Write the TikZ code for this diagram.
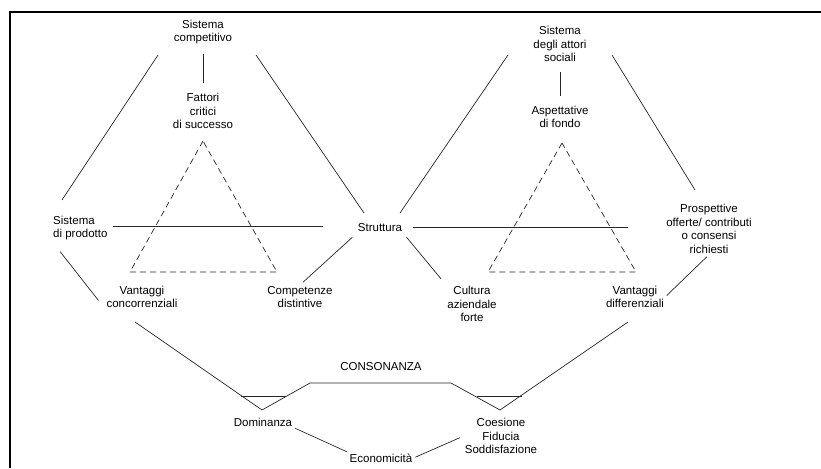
\documentclass[tikz,border=0pt]{standalone}
\usepackage{fontspec}
\setmainfont{Liberation Sans}
\begin{document}
\begin{tikzpicture}[x=1pt,y=-1pt,
  label node/.style={align=center, inner sep=1pt, font=\fontsize{11.5}{13.5}\selectfont},
  link/.style={draw=black!85, line width=0.7pt},
  hidden link/.style={link, dash pattern=on 6pt off 4pt}]
  \useasboundingbox (0,0) rectangle (821,468);
  % Frame
  \draw[line width=1.8pt] (10,468) -- (10,12) -- (821,12);

  % Nodes, left side
  \node[label node] (sc) at (203,32) {Sistema\\competitivo};
  \node[label node] (fcs) at (203,111) {Fattori\\critici\\di successo};
  \node[label node, align=left, anchor=west] (sp) at (52,228) {Sistema\\di prodotto};
  \node[label node] (str) at (380,228) {Struttura};
  \node[label node] (vc) at (142,297) {Vantaggi\\concorrenziali};
  \node[label node] (cd) at (300,297) {Competenze\\distintive};
  % Nodes, right side
  \node[label node] (ssa) at (560,44) {Sistema\\degli attori\\sociali};
  \node[label node] (adf) at (560,117) {Aspettative\\di fondo};
  \node[label node] (poc) at (709,229) {Prospettive\\offerte/ contributi\\o consensi\\richiesti};
  \node[label node] (caf) at (472,304) {Cultura\\aziendale\\forte};
  \node[label node] (vd) at (635,297) {Vantaggi\\differenziali};
  % Nodes, bottom
  \node[label node] (cons) at (381,367) {CONSONANZA};
  \node[label node] (dom) at (263,422) {Dominanza};
  \node[label node] (eco) at (381,458) {Economicit\`a};
  \node[label node] (cfs) at (501,436) {Coesione\\Fiducia\\Soddisfazione};

  % Corners of the two schemes
  \coordinate (lt1) at (158,55);  \coordinate (lb1) at (62,200);
  \coordinate (rt1) at (256,55);  \coordinate (rb1) at (364,213);
  \coordinate (lt2) at (508,55);  \coordinate (lb2) at (400,213);
  \coordinate (rt2) at (612,55);  \coordinate (rb2) at (695,190);
  \coordinate (hl1) at (113,226); \coordinate (hr1) at (323,226);
  \coordinate (hl2) at (413,227); \coordinate (hr2) at (628,227);
  \coordinate (ta1) at (203,141); \coordinate (tl1) at (130,272); \coordinate (tr1) at (277,272);
  \coordinate (ta2) at (562,143); \coordinate (tl2) at (488,272); \coordinate (tr2) at (636,272);
  \coordinate (v1) at (135,322);  \coordinate (d1) at (262,410);
  \coordinate (c1) at (310,383);  \coordinate (c2) at (451,383);
  \coordinate (d2) at (500,410);  \coordinate (v2) at (628,322);
  \coordinate (sl1) at (241,396); \coordinate (sr1) at (286,396);
  \coordinate (sl2) at (477,396); \coordinate (sr2) at (522,396);

  % Solid lines
  \draw[link] (lt1) -- (lb1);
  \draw[link] (rt1) -- (rb1);
  \draw[link] (lt2) -- (lb2);
  \draw[link] (rt2) -- (rb2);
  \draw[link] (hl1) -- (hr1);
  \draw[link] (hl2) -- (hr2);
  \draw[link] (v1) -- (d1) -- (c1) -- (c2) -- (d2) -- (v2);
  \draw[link] (sl1) -- (sr1);
  \draw[link] (sl2) -- (sr2);
  % Dashed triangles
  \draw[hidden link] (ta1) -- (tl1) -- (tr1) -- cycle;
  \draw[hidden link] (ta2) -- (tl2) -- (tr2) -- cycle;

  % Connectors between labels
  \draw[link, shorten <=9pt, shorten >=9pt] (sc.south) -- (fcs.north);
  \draw[link, shorten <=9pt, shorten >=9pt] (ssa.south) -- (adf.north);
  \draw[link, shorten <=13pt, shorten >=11pt] (sp.south west) -- (vc.south west);
  \draw[link, shorten <=6pt, shorten >=4pt] (str.south west) -- (cd.north);
  \draw[link, shorten <=5pt, shorten >=8pt] (str.south east) -- (caf.north west);
  \draw[link, shorten <=3pt, shorten >=2pt] (poc.south) -- (vd.east);
  \draw[link, shorten <=2pt, shorten >=2pt] (dom.south east) -- (eco.north west);
  \draw[link, shorten <=4pt, shorten >=2pt] (cfs.west) -- (eco.east);
\end{tikzpicture}
\end{document}
